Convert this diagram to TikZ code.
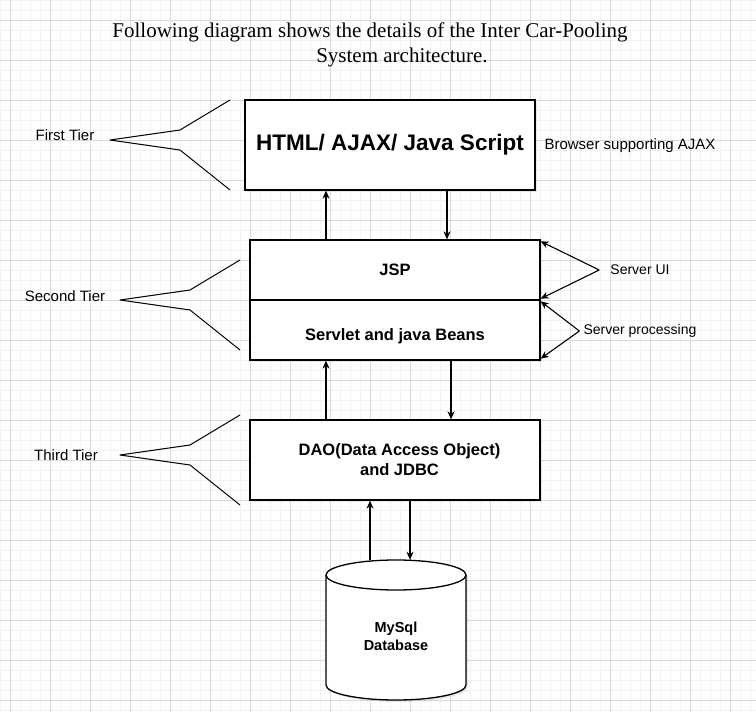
\documentclass[tikz,border=0pt]{standalone}
\usepackage{fontspec}
\setmainfont{Liberation Serif}
\setsansfont{Liberation Sans}
\usetikzlibrary{arrows.meta,shadows}
\definecolor{gridminor}{RGB}{242,242,242}
\definecolor{gridmajor}{RGB}{218,218,218}
\begin{document}
\begin{tikzpicture}[x=1pt,y=-1pt,
  box/.style={draw, line width=1.3pt, fill=white, minimum width=290pt, inner sep=0pt,
    font=\sffamily\bfseries\fontsize{16.5}{20}\selectfont, align=center,
    drop shadow={opacity=0.18, shadow xshift=2pt, shadow yshift=-2pt}},
  lbl/.style={font=\sffamily\fontsize{15}{17}\selectfont, inner sep=0pt},
  small/.style={font=\sffamily\fontsize{14}{17}\selectfont, inner sep=0pt},
  ttl/.style={font=\rmfamily\fontsize{21}{24}\selectfont, anchor=base, inner sep=0pt},
  arr/.style={-{Stealth[length=8pt,width=7pt,inset=2.5pt]}, line width=1.1pt},
  brk/.style={line width=1pt, line join=round}
]
\useasboundingbox (0,0) rectangle (756,712);
\fill[white] (0,0) rectangle (756,712);
% grid
\foreach \g in {0,10,...,750} \draw[gridminor, line width=1pt] (\g,0) -- (\g,712);
\foreach \g in {0,10,...,710} \draw[gridminor, line width=1pt] (0,\g) -- (756,\g);
\foreach \g in {10,50,...,730} \draw[gridmajor, line width=1pt] (\g,0) -- (\g,712);
\foreach \g in {20,60,...,700} \draw[gridmajor, line width=1pt] (0,\g) -- (756,\g);

% title
\node[ttl] (title1) at (370,37) {Following diagram shows the details of the Inter Car-Pooling};
\node[ttl] (title2) at (402,63) {System architecture.};

% boxes
\node[box, minimum height=90pt, font=\sffamily\bfseries\fontsize{22.5}{26}\selectfont] (b1) at (390,145) {HTML/ AJAX/ Java Script};
\node[box, minimum height=60pt] (jsp) at (395,270) {JSP};
\node[box, minimum height=60pt] (serv) at (395,330) {\raisebox{-10pt}[0pt][0pt]{Servlet and java Beans}};
\node[box, minimum height=80pt] (b3) at (395,460) {\hspace*{9pt}DAO(Data Access Object)\\\hspace*{9pt}and JDBC};

% database cylinder
\path[draw, line width=1.3pt, fill=white, drop shadow={opacity=0.18, shadow xshift=2pt, shadow yshift=-2pt}]
  (326,575) -- (326,685) arc[start angle=180, end angle=360, x radius=70pt, y radius=15pt]
  -- (466,575) arc[start angle=0, end angle=180, x radius=70pt, y radius=15pt] -- cycle;
\draw[line width=1.3pt] (326,575) arc[start angle=180, end angle=360, x radius=70pt, y radius=15pt];
\node[font=\sffamily\bfseries\fontsize{14.5}{18}\selectfont, align=center, inner sep=0pt,
  minimum width=140pt, minimum height=152pt] (db) at (396,636) {MySql\\Database};

% vertical connectors
\draw[arr] ([xshift=-69pt]jsp.north) -- ([xshift=-64pt]b1.south);
\draw[arr] ([xshift=57pt]b1.south) -- ([xshift=52pt]jsp.north);
\draw[arr] ([xshift=-69pt]b3.north) -- ([xshift=-69pt]serv.south);
\draw[arr] ([xshift=56pt]serv.south) -- ([xshift=56pt]b3.north);
\draw[arr] ([xshift=-26pt]db.north) -- ([xshift=-25pt]b3.south);
\draw[arr] ([xshift=15pt]b3.south) -- ([xshift=14pt]db.north);

% right-hand labels
\node[small, font=\sffamily\fontsize{15}{17}\selectfont] (browser) at (630,146) {Browser supporting AJAX};
\node[small] (sui) at (640,270) {Server UI};
\node[small] (sproc) at (640,331) {Server processing};
\draw[arr] ([xshift=-11pt]sui.west) -- ([yshift=-2pt]jsp.north east);
\draw[arr] ([xshift=-11pt]sui.west) -- ([yshift=2pt]jsp.south east);
\draw[arr] ([xshift=-4pt]sproc.west) -- ([yshift=-2pt]serv.north east);
\draw[arr] ([xshift=-4pt]sproc.west) -- ([yshift=2pt]serv.south east);

% tier labels and brackets
\node[lbl] (t1) at (65,135) {First Tier};
\node[lbl] (t2) at (65,296) {Second Tier};
\node[lbl] (t3) at (66,455) {Third Tier};
\draw[brk] (230,100) -- (180,130) -- (110,140) -- (180,150) -- (230,190);
\draw[brk] (240,260) -- (190,290) -- (120,300) -- (190,310) -- (240,350);
\draw[brk] (240,415) -- (190,445) -- (120,455) -- (190,465) -- (240,505);
\end{tikzpicture}
\end{document}
